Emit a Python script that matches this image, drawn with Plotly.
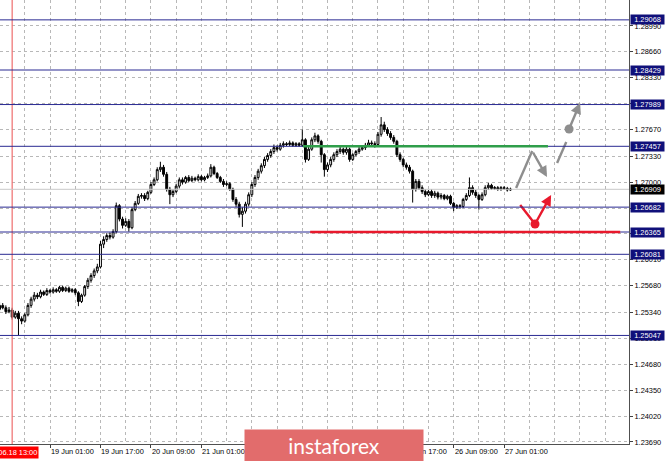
import plotly.graph_objects as go

# ---------------- data ----------------
bars = list(range(163))
opens = [1.2538, 1.2543, 1.2540, 1.2535, 1.2537, 1.2528, 1.2533, 1.2526, 1.2523, 1.2531,
         1.2543, 1.2551, 1.2556, 1.2554, 1.2560, 1.2557, 1.2562, 1.2560, 1.2563, 1.2561,
         1.2566, 1.2562, 1.2565, 1.2561, 1.2563, 1.2559, 1.2548, 1.2556, 1.2567, 1.2575,
         1.2581, 1.2587, 1.2592, 1.2621, 1.2627, 1.2632, 1.2630, 1.2637, 1.2670, 1.2653,
         1.2645, 1.2650, 1.2642, 1.2665, 1.2673, 1.2682, 1.2683, 1.2679, 1.2687, 1.2697,
         1.2703, 1.2716, 1.2719, 1.2710, 1.2691, 1.2684, 1.2688, 1.2695, 1.2703, 1.2700,
         1.2706, 1.2702, 1.2705, 1.2703, 1.2707, 1.2703, 1.2706, 1.2708, 1.2719, 1.2711,
         1.2706, 1.2701, 1.2697, 1.2698, 1.2691, 1.2678, 1.2672, 1.2659, 1.2663, 1.2672,
         1.2684, 1.2697, 1.2706, 1.2714, 1.2721, 1.2729, 1.2734, 1.2739, 1.2744, 1.2742,
         1.2747, 1.2749, 1.2748, 1.2750, 1.2747, 1.2749, 1.2747, 1.2754, 1.2729, 1.2742,
         1.2754, 1.2759, 1.2752, 1.2735, 1.2716, 1.2722, 1.2729, 1.2735, 1.2739, 1.2742,
         1.2738, 1.2742, 1.2729, 1.2735, 1.2739, 1.2742, 1.2744, 1.2747, 1.2750, 1.2749,
         1.2748, 1.2761, 1.2773, 1.2767, 1.2762, 1.2757, 1.2752, 1.2735, 1.2729, 1.2722,
         1.2719, 1.2714, 1.2691, 1.2701, 1.2693, 1.2688, 1.2684, 1.2688, 1.2683, 1.2686,
         1.2681, 1.2683, 1.2679, 1.2682, 1.2673, 1.2668, 1.2670, 1.2669, 1.2678, 1.2683,
         1.2693, 1.2687, 1.2683, 1.2678, 1.2684, 1.2693, 1.2696, 1.2692, 1.2693, 1.2691,
         1.2693, 1.2692, 1.2690]
highs = [1.2547, 1.2546, 1.2543, 1.2541, 1.2540, 1.2536, 1.2536, 1.2529, 1.2533, 1.2546,
         1.2554, 1.2560, 1.2559, 1.2563, 1.2562, 1.2565, 1.2564, 1.2566, 1.2565, 1.2568,
         1.2568, 1.2567, 1.2567, 1.2565, 1.2565, 1.2561, 1.2558, 1.2569, 1.2578, 1.2584,
         1.2590, 1.2596, 1.2625, 1.2631, 1.2635, 1.2636, 1.2640, 1.2674, 1.2672, 1.2656,
         1.2654, 1.2653, 1.2668, 1.2676, 1.2685, 1.2686, 1.2686, 1.2689, 1.2700, 1.2706,
         1.2719, 1.2726, 1.2722, 1.2713, 1.2694, 1.2691, 1.2698, 1.2706, 1.2706, 1.2708,
         1.2709, 1.2708, 1.2707, 1.2710, 1.2709, 1.2708, 1.2711, 1.2723, 1.2721, 1.2713,
         1.2708, 1.2704, 1.2701, 1.2700, 1.2693, 1.2681, 1.2675, 1.2668, 1.2675, 1.2687,
         1.2700, 1.2709, 1.2717, 1.2724, 1.2732, 1.2737, 1.2742, 1.2748, 1.2747, 1.2750,
         1.2752, 1.2751, 1.2753, 1.2752, 1.2751, 1.2751, 1.2767, 1.2756, 1.2745, 1.2757,
         1.2763, 1.2761, 1.2754, 1.2737, 1.2725, 1.2732, 1.2738, 1.2742, 1.2745, 1.2744,
         1.2745, 1.2744, 1.2737, 1.2741, 1.2745, 1.2747, 1.2750, 1.2754, 1.2753, 1.2752,
         1.2764, 1.2783, 1.2777, 1.2770, 1.2765, 1.2760, 1.2754, 1.2738, 1.2731, 1.2725,
         1.2722, 1.2716, 1.2704, 1.2704, 1.2696, 1.2691, 1.2690, 1.2691, 1.2689, 1.2688,
         1.2686, 1.2685, 1.2684, 1.2684, 1.2675, 1.2672, 1.2672, 1.2680, 1.2686, 1.2706,
         1.2696, 1.2690, 1.2685, 1.2687, 1.2696, 1.2699, 1.2698, 1.2695, 1.2695, 1.2695,
         1.2695, 1.2694, 1.2693]
lows = [1.2535, 1.2538, 1.2532, 1.2533, 1.2525, 1.2526, 1.2505, 1.2519, 1.2521, 1.2529,
        1.2540, 1.2548, 1.2551, 1.2552, 1.2555, 1.2555, 1.2558, 1.2558, 1.2559, 1.2559,
        1.2560, 1.2560, 1.2559, 1.2559, 1.2556, 1.2542, 1.2546, 1.2554, 1.2564, 1.2572,
        1.2578, 1.2584, 1.2590, 1.2616, 1.2624, 1.2627, 1.2628, 1.2635, 1.2650, 1.2641,
        1.2643, 1.2637, 1.2640, 1.2663, 1.2671, 1.2679, 1.2676, 1.2677, 1.2685, 1.2695,
        1.2701, 1.2713, 1.2707, 1.2688, 1.2672, 1.2681, 1.2686, 1.2692, 1.2697, 1.2698,
        1.2700, 1.2700, 1.2701, 1.2701, 1.2701, 1.2701, 1.2704, 1.2706, 1.2709, 1.2704,
        1.2699, 1.2694, 1.2695, 1.2689, 1.2675, 1.2668, 1.2655, 1.2643, 1.2660, 1.2669,
        1.2681, 1.2694, 1.2703, 1.2711, 1.2718, 1.2726, 1.2731, 1.2736, 1.2739, 1.2740,
        1.2744, 1.2746, 1.2746, 1.2745, 1.2745, 1.2745, 1.2745, 1.2725, 1.2727, 1.2740,
        1.2751, 1.2749, 1.2725, 1.2707, 1.2713, 1.2719, 1.2726, 1.2732, 1.2736, 1.2735,
        1.2735, 1.2726, 1.2727, 1.2733, 1.2736, 1.2740, 1.2741, 1.2745, 1.2746, 1.2744,
        1.2746, 1.2758, 1.2764, 1.2759, 1.2754, 1.2749, 1.2732, 1.2726, 1.2719, 1.2716,
        1.2711, 1.2674, 1.2688, 1.2690, 1.2685, 1.2681, 1.2682, 1.2680, 1.2680, 1.2678,
        1.2678, 1.2677, 1.2677, 1.2671, 1.2663, 1.2666, 1.2666, 1.2667, 1.2676, 1.2681,
        1.2684, 1.2680, 1.2665, 1.2676, 1.2682, 1.2690, 1.2690, 1.2690, 1.2689, 1.2689,
        1.2690, 1.2688, 1.2689]
closes = [1.2543, 1.2540, 1.2535, 1.2537, 1.2528, 1.2533, 1.2526, 1.2523, 1.2531, 1.2543,
          1.2551, 1.2556, 1.2554, 1.2560, 1.2557, 1.2562, 1.2560, 1.2563, 1.2561, 1.2566,
          1.2562, 1.2565, 1.2561, 1.2563, 1.2559, 1.2548, 1.2556, 1.2567, 1.2575, 1.2581,
          1.2587, 1.2592, 1.2621, 1.2627, 1.2632, 1.2630, 1.2637, 1.2670, 1.2653, 1.2645,
          1.2650, 1.2642, 1.2665, 1.2673, 1.2682, 1.2683, 1.2679, 1.2687, 1.2697, 1.2703,
          1.2716, 1.2719, 1.2710, 1.2691, 1.2684, 1.2688, 1.2695, 1.2703, 1.2700, 1.2706,
          1.2702, 1.2705, 1.2703, 1.2707, 1.2703, 1.2706, 1.2708, 1.2719, 1.2711, 1.2706,
          1.2701, 1.2697, 1.2698, 1.2691, 1.2678, 1.2672, 1.2659, 1.2663, 1.2672, 1.2684,
          1.2697, 1.2706, 1.2714, 1.2721, 1.2729, 1.2734, 1.2739, 1.2744, 1.2742, 1.2747,
          1.2749, 1.2748, 1.2750, 1.2747, 1.2749, 1.2747, 1.2754, 1.2729, 1.2742, 1.2754,
          1.2759, 1.2752, 1.2735, 1.2716, 1.2722, 1.2729, 1.2735, 1.2739, 1.2742, 1.2738,
          1.2742, 1.2729, 1.2735, 1.2739, 1.2742, 1.2744, 1.2747, 1.2750, 1.2749, 1.2748,
          1.2761, 1.2773, 1.2767, 1.2762, 1.2757, 1.2752, 1.2735, 1.2729, 1.2722, 1.2719,
          1.2714, 1.2691, 1.2701, 1.2693, 1.2688, 1.2684, 1.2688, 1.2683, 1.2686, 1.2681,
          1.2683, 1.2679, 1.2682, 1.2673, 1.2668, 1.2670, 1.2669, 1.2678, 1.2683, 1.2693,
          1.2687, 1.2683, 1.2678, 1.2684, 1.2693, 1.2696, 1.2692, 1.2693, 1.2691, 1.2693,
          1.2692, 1.2690, 1.2691]

x_label_bars = [16, 32, 48, 64, 80, 96, 112, 128, 144, 160]
x_labels = ["19 Jun 01:00", "19 Jun 17:00", "20 Jun 09:00", "21 Jun 01:00", "21 Jun 17:00",
            "22 Jun 09:00", "25 Jun 01:00", "25 Jun 17:00", "26 Jun 09:00", "27 Jun 01:00"]
x_minor_grid = [8, 24, 40, 56, 72, 88, 104, 120, 136, 152, 168, 176, 184, 192]
vline_bar = 4
vline_label = "18.06.18 13:00"

y_ticks = [1.28990, 1.28660, 1.28330, 1.28000, 1.27670, 1.27330, 1.27000, 1.26670, 1.26340,
           1.26010, 1.25680, 1.25340, 1.25010, 1.24680, 1.24350, 1.24020, 1.23690]
levels = [1.29068, 1.28429, 1.27989, 1.27457, 1.26682, 1.26365, 1.26081, 1.25047]
bid_price = 1.26909

green_level = 1.27457
green_span = [96.2, 173.9]
red_level = 1.26365
red_span = [98.5, 196.8]

gray_up_x = [163.8, 168.9]
gray_up_y = [1.26926, 1.27397]
gray_down_end = (173.6, 1.27066)
gray_dash_x = [176.8, 179.7]
gray_dash_y = [1.27244, 1.27512]
gray_dot = (180.6, 1.27678)
gray_up_end = (184.1, 1.28009)
red_down_x = [165.1, 169.8]
red_down_y = [1.26709, 1.26467]
red_up_end = (174.9, 1.26837)

x_range = [0.14, 199.6]
y_range = [1.23664, 1.29321]

# ---------------- styling ----------------
FONT = "Liberation Sans"
FS = 7.4
NAVY = "#10107a"
LINE_NAVY = "#2a2a92"
GRID = "#b8b8b8"
GRAY = "#8e8e8e"
RED = "#e8192c"
GREEN = "#2f9e4a"

fig = go.Figure()

fig.add_trace(go.Candlestick(
    x=bars, open=opens, high=highs, low=lows, close=closes,
    increasing=dict(line=dict(color="black", width=1), fillcolor="white"),
    decreasing=dict(line=dict(color="black", width=1), fillcolor="black"),
    whiskerwidth=0, showlegend=False, hoverinfo="skip",
))

shapes = []
shapes.append(dict(type="line", xref="x", yref="paper", x0=vline_bar, x1=vline_bar, y0=0, y1=1,
                   line=dict(color="#f07878", width=1.3), layer="above"))
shapes.append(dict(type="line", xref="paper", yref="y", x0=0, x1=1, y0=bid_price, y1=bid_price,
                   line=dict(color="#c8c8c8", width=1), layer="above"))
for lv in levels:
    shapes.append(dict(type="line", xref="paper", yref="y", x0=0, x1=1, y0=lv, y1=lv,
                       line=dict(color=LINE_NAVY, width=1), layer="above"))
shapes.append(dict(type="line", xref="x", yref="y", x0=green_span[0], x1=green_span[1],
                   y0=green_level, y1=green_level, line=dict(color=GREEN, width=2.6), layer="above"))
shapes.append(dict(type="line", xref="x", yref="y", x0=red_span[0], x1=red_span[1],
                   y0=red_level, y1=red_level, line=dict(color=RED, width=2.6), layer="above"))

fig.add_trace(go.Scatter(x=gray_up_x, y=gray_up_y, mode="lines",
                         line=dict(color=GRAY, width=2.4), showlegend=False, hoverinfo="skip"))
fig.add_trace(go.Scatter(x=gray_dash_x, y=gray_dash_y, mode="lines",
                         line=dict(color=GRAY, width=2.4), showlegend=False, hoverinfo="skip"))
fig.add_trace(go.Scatter(x=[gray_dot[0]], y=[gray_dot[1]], mode="markers",
                         marker=dict(color=GRAY, size=9), showlegend=False, hoverinfo="skip"))
fig.add_trace(go.Scatter(x=red_down_x, y=red_down_y, mode="lines",
                         line=dict(color=RED, width=2.4), showlegend=False, hoverinfo="skip"))
fig.add_trace(go.Scatter(x=[red_down_x[1]], y=[red_down_y[1]], mode="markers",
                         marker=dict(color=RED, size=9), showlegend=False, hoverinfo="skip"))

annotations = []


def arrow(tail, head, color):
    return dict(x=head[0], y=head[1], ax=tail[0], ay=tail[1], xref="x", yref="y",
                axref="x", ayref="y", text="", showarrow=True, arrowhead=2,
                arrowsize=0.9, arrowwidth=2.4, arrowcolor=color, standoff=0, startstandoff=0)


annotations.append(arrow((gray_up_x[1], gray_up_y[1]), gray_down_end, GRAY))
annotations.append(arrow(gray_dot, gray_up_end, GRAY))
annotations.append(arrow((red_down_x[1], red_down_y[1]), red_up_end, RED))

for b, t in zip(x_label_bars, x_labels):
    annotations.append(dict(x=b, y=0, xref="x", yref="paper", xanchor="left", yanchor="top",
                            yshift=-2, xshift=0, text=t, showarrow=False, borderpad=0,
                            font=dict(family=FONT, size=FS, color="black")))
annotations.append(dict(x=vline_bar, y=0, xref="x", yref="paper", xanchor="center", yanchor="top",
                        yshift=-2, text=vline_label, showarrow=False, bgcolor="#ff0000",
                        borderpad=1, font=dict(family=FONT, size=FS, color="white")))
for lv in levels:
    annotations.append(dict(x=1, y=lv, xref="paper", yref="y", xanchor="left", yanchor="middle",
                            xshift=1, text=f"{lv:.5f}", showarrow=False, bgcolor=NAVY,
                            width=33, height=9, borderpad=0,
                            font=dict(family=FONT, size=FS, color="white")))
annotations.append(dict(x=1, y=bid_price, xref="paper", yref="y", xanchor="left", yanchor="middle",
                        xshift=1, text=f"{bid_price:.5f}", showarrow=False, bgcolor="black",
                        width=33, height=9, borderpad=0,
                        font=dict(family=FONT, size=FS, color="white")))
annotations.append(dict(x=0.531, y=-0.0035, xref="paper", yref="paper", xanchor="center",
                        yanchor="middle", text="instaforex", showarrow=False,
                        bgcolor="#e26c6c", width=178, height=31, borderpad=0,
                        font=dict(family="Lato", size=21, color="white")))

fig.update_layout(
    width=665, height=461,
    margin=dict(l=0, r=36, t=0, b=17, pad=0),
    paper_bgcolor="white", plot_bgcolor="white",
    shapes=shapes, annotations=annotations,
    showlegend=False, boxgap=0.15,
    xaxis=dict(range=x_range, tickmode="array", tickvals=x_label_bars, showticklabels=False,
               ticks="outside", ticklen=3, tickcolor="#404040", tickwidth=1,
               showgrid=True, gridcolor=GRID, griddash="dot", gridwidth=1,
               minor=dict(tickmode="array", tickvals=x_minor_grid, showgrid=True,
                          gridcolor=GRID, griddash="dot", gridwidth=1, ticks=""),
               showline=True, linecolor="#505050", linewidth=1, zeroline=False,
               rangeslider=dict(visible=False), fixedrange=True),
    yaxis=dict(range=y_range, side="right", tickmode="array", tickvals=y_ticks,
               ticktext=[f"{v:.5f}" for v in y_ticks],
               ticks="outside", ticklen=3, tickcolor="#404040", tickwidth=1,
               tickfont=dict(family=FONT, size=FS, color="black"),
               showgrid=True, gridcolor=GRID, griddash="dot", gridwidth=1,
               showline=True, linecolor="#505050", linewidth=1, zeroline=False,
               automargin=False, fixedrange=True),
)

fig.write_html("out.html", config={"responsive": False, "displayModeBar": False},
               post_script="document.body.style.margin='0';document.body.style.overflow='hidden';")
